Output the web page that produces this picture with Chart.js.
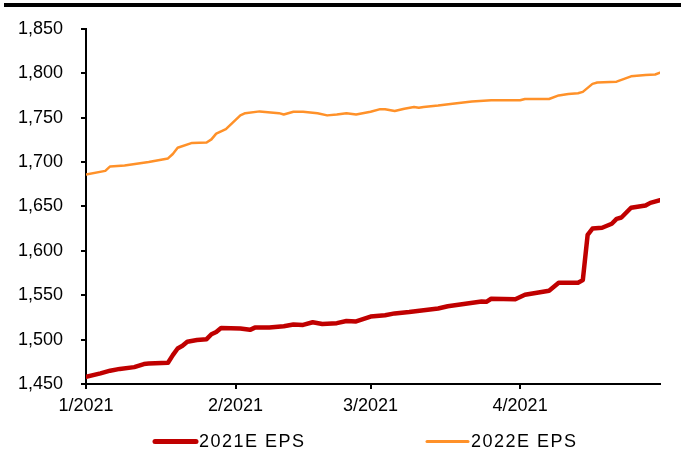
<!DOCTYPE html>
<html>
<head>
<meta charset="utf-8">
<script src="https://cdn.jsdelivr.net/npm/chart.js@4"></script>
<style>
  html, body { margin: 0; padding: 0; background: #fff; }
  #wrap { position: relative; width: 684px; height: 452px; }
</style>
</head>
<body>
<div id="wrap"><canvas id="epsChart"></canvas></div>
<script>
// days counted from 1 Jan 2021
const monthTicks = [0, 31, 59, 90];
const monthLabels = ['1/2021', '2/2021', '3/2021', '4/2021'];
const lastDay = 119;

const eps2021Days = [0, 3, 5, 7, 10, 12, 13, 17, 18, 19, 20, 21, 23, 25, 26, 27, 28, 32, 34, 35, 38, 41, 43, 45, 47, 49, 52, 54, 56, 59, 62, 64, 67, 70, 73, 75, 82, 83, 84, 89, 91, 96, 98, 102, 103, 104, 105, 107, 109, 110, 111, 113, 116, 117, 119];
const eps2021 = [1458, 1462, 1465, 1467, 1469, 1472.5, 1473, 1474, 1482.5, 1490, 1493, 1497.5, 1499.5, 1500.5, 1506, 1508.5, 1513, 1512.5, 1511, 1513.5, 1513.5, 1515, 1517, 1516.5, 1519.5, 1517.5, 1518.5, 1521, 1520.5, 1526, 1527.5, 1529.5, 1531, 1533, 1535, 1537.5, 1543, 1542.5, 1546, 1545.5, 1550.5, 1555, 1564, 1564, 1567, 1618, 1625, 1626, 1630.5, 1636, 1637.5, 1648.5, 1651, 1654, 1657];

const eps2022Days = [0, 4, 5, 8, 13, 15, 17, 18, 19, 22, 25, 26, 27, 29, 32, 33, 36, 40, 41, 43, 45, 48, 50, 52, 54, 56, 59, 61, 62, 64, 66, 68, 69, 70, 73, 76, 80, 84, 90, 91, 96, 98, 100, 102, 103, 105, 106, 110, 112, 113, 116, 118, 119];
const eps2022 = [1686, 1690, 1695, 1696, 1700, 1702, 1704, 1709, 1716, 1721.5, 1722, 1725.5, 1732, 1737, 1752.5, 1755, 1757, 1755, 1753.5, 1756.5, 1756.5, 1755, 1752.5, 1753.5, 1755, 1753.5, 1756.5, 1759.5, 1759.5, 1757.5, 1760, 1762, 1761, 1762, 1763.5, 1765.5, 1768, 1769.5, 1769.5, 1771, 1771, 1775, 1776.5, 1777.5, 1779, 1788, 1789.5, 1790.5, 1794.5, 1796.5, 1798, 1798.5, 1800.5];

const seriesNames = ['2021E EPS', '2022E EPS'];

const toPoints = (days, vals) => days.map((d, i) => ({ x: d, y: vals[i] }));

const FONT = '"Liberation Sans", Arial, sans-serif';

// top rule and the legend below the axis
const decor = {
  id: 'decor',
  afterDraw(chart) {
    const ctx = chart.ctx;
    ctx.save();
    ctx.fillStyle = '#000';
    ctx.fillRect(4, 3, 677, 4);

    const items = [
      { x: 153, ds: chart.data.datasets[0], w: 5 },
      { x: 425, ds: chart.data.datasets[1], w: 3 }
    ];
    const y = 441.5;
    ctx.font = '18px ' + FONT;
    ctx.textBaseline = 'middle';
    ctx.textAlign = 'left';
    if ('letterSpacing' in ctx) ctx.letterSpacing = '1.5px';
    items.forEach(it => {
      ctx.strokeStyle = it.ds.borderColor;
      ctx.lineWidth = it.w;
      ctx.lineCap = 'round';
      ctx.beginPath();
      ctx.moveTo(it.x + 2, y);
      ctx.lineTo(it.x + 43, y);
      ctx.stroke();
      ctx.fillStyle = '#000';
      ctx.fillText(it.ds.label, it.x + 46, y + 1);
    });
    ctx.restore();
  }
};

const epsChart = new Chart(document.getElementById('epsChart'), {
  type: 'line',
  data: {
    datasets: [
      {
        label: seriesNames[0],
        data: toPoints(eps2021Days, eps2021),
        borderColor: '#C00000',
        backgroundColor: '#C00000',
        borderWidth: 4.5,
        pointRadius: 0,
        tension: 0,
        borderJoinStyle: 'round',
        borderCapStyle: 'round'
      },
      {
        label: seriesNames[1],
        data: toPoints(eps2022Days, eps2022),
        borderColor: '#FF9129',
        backgroundColor: '#FF9129',
        borderWidth: 2.5,
        pointRadius: 0,
        tension: 0,
        borderJoinStyle: 'round',
        borderCapStyle: 'round'
      }
    ]
  },
  options: {
    responsive: true,
    maintainAspectRatio: false,
    animation: false,
    layout: { padding: { top: 24, right: 24, left: 0, bottom: 0 } },
    plugins: {
      legend: { display: false },
      tooltip: { enabled: false }
    },
    scales: {
      x: {
        type: 'linear',
        min: 0,
        max: lastDay,
        afterBuildTicks: s => { s.ticks = monthTicks.map(v => ({ value: v })); },
        afterFit: s => { s.height = 68; },
        border: { color: '#000', width: 2 },
        grid: { drawOnChartArea: false, drawTicks: true, tickLength: 5, color: '#000', lineWidth: 2 },
        ticks: {
          autoSkip: false,
          maxRotation: 0,
          padding: 6,
          color: '#000',
          font: { family: FONT, size: 18 },
          callback: v => monthLabels[monthTicks.indexOf(v)]
        }
      },
      y: {
        min: 1450,
        max: 1850,
        afterFit: s => { s.width = 86; },
        border: { color: '#000', width: 2 },
        grid: { drawOnChartArea: false, drawTicks: true, tickLength: 5, color: '#000', lineWidth: 2 },
        ticks: {
          stepSize: 50,
          padding: 18,
          color: '#000',
          font: { family: FONT, size: 18 },
          callback: v => v.toLocaleString('en-US')
        }
      }
    }
  },
  plugins: [decor]
});
</script>
</body>
</html>
